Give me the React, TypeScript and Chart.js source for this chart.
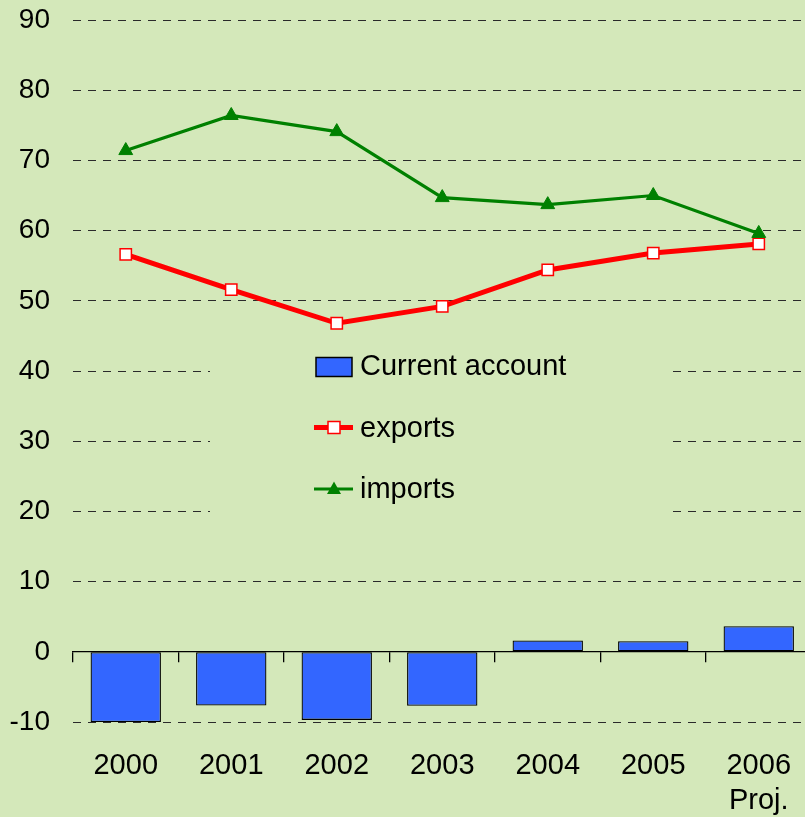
import React, { useEffect, useRef } from 'react';
import { Chart, registerables } from 'chart.js';

Chart.register(...registerables);

// ---- Data ----
const categories: (string | string[])[] = ['2000', '2001', '2002', '2003', '2004', '2005', ['2006', 'Proj.']];
const currentAccount = [-10.0, -7.65, -9.7, -7.7, 1.6, 1.5, 3.65];
const exportsValues = [56.6, 51.6, 46.8, 49.2, 54.4, 56.8, 58.1];
const importsValues = [71.4, 76.4, 74.1, 64.7, 63.7, 65.0, 59.6];
const yMin = -10;
const yMax = 90;
const yStep = 10;

const BG = 'rgb(212,232,186)';
const FONT = "'Liberation Sans', Arial, sans-serif";
const CANVAS_W = 821;

const centerLegend = {
  id: 'centerLegend',
  beforeDatasetsDraw(chart: any) {
    const ctx = chart.ctx as CanvasRenderingContext2D;
    const ds = chart.data.datasets;
    ctx.save();
    // background box hiding gridlines
    ctx.fillStyle = BG;
    ctx.fillRect(210, 335, 461, 195);

    ctx.font = `29px ${FONT}`;
    ctx.fillStyle = '#000';
    ctx.textBaseline = 'middle';
    ctx.textAlign = 'left';

    // Bar item
    const b = ds[0];
    ctx.fillStyle = b.backgroundColor;
    ctx.fillRect(316, 357.5, 36, 19);
    ctx.strokeStyle = b.borderColor;
    ctx.lineWidth = 1.5;
    ctx.strokeRect(316, 357.5, 36, 19);
    ctx.fillStyle = '#000';
    ctx.fillText(b.label, 360, 367);

    // exports item
    const e = ds[1];
    ctx.strokeStyle = e.borderColor;
    ctx.lineWidth = e.borderWidth;
    ctx.beginPath();
    ctx.moveTo(314, 427.5);
    ctx.lineTo(353, 427.5);
    ctx.stroke();
    ctx.fillStyle = e.pointBackgroundColor;
    ctx.fillRect(328, 421.5, 12, 12);
    ctx.strokeStyle = e.pointBorderColor;
    ctx.lineWidth = e.pointBorderWidth;
    ctx.strokeRect(328, 421.5, 12, 12);
    ctx.fillStyle = '#000';
    ctx.fillText(e.label, 360, 429);

    // imports item
    const im = ds[2];
    ctx.strokeStyle = im.borderColor;
    ctx.lineWidth = im.borderWidth;
    ctx.beginPath();
    ctx.moveTo(314, 489);
    ctx.lineTo(353, 489);
    ctx.stroke();
    ctx.fillStyle = im.pointBackgroundColor;
    ctx.beginPath();
    ctx.moveTo(334, 481.5);
    ctx.lineTo(341, 494);
    ctx.lineTo(327, 494);
    ctx.closePath();
    ctx.fill();
    ctx.fillStyle = '#000';
    ctx.fillText(im.label, 360, 490);
    ctx.restore();
  },
};

export default function App() {
  const ref = useRef<HTMLCanvasElement>(null);

  useEffect(() => {
    if (!ref.current) return;
    const chart = new Chart(ref.current, {
      type: 'bar',
      data: {
        labels: categories as any,
        datasets: [
          {
            type: 'bar',
            label: 'Current account',
            data: currentAccount,
            backgroundColor: '#3366FF',
            borderColor: '#000000',
            borderWidth: 1.3,
            borderSkipped: false,
            barPercentage: 0.667,
            categoryPercentage: 1,
            xAxisID: 'x',
            yAxisID: 'y',
            order: 3,
          } as any,
          {
            type: 'line',
            label: 'exports',
            data: exportsValues,
            borderColor: '#FF0000',
            borderWidth: 5,
            pointStyle: 'rect',
            pointRadius: 8,
            pointBackgroundColor: '#FFFFFF',
            pointBorderColor: '#FF0000',
            pointBorderWidth: 1.5,
            tension: 0,
            xAxisID: 'x',
            yAxisID: 'y',
            order: 2,
          } as any,
          {
            type: 'line',
            label: 'imports',
            data: importsValues,
            borderColor: '#008000',
            borderWidth: 3.2,
            pointStyle: 'triangle',
            pointRadius: 8,
            pointBackgroundColor: '#008000',
            pointBorderColor: '#008000',
            pointBorderWidth: 1,
            tension: 0,
            xAxisID: 'x',
            yAxisID: 'y',
            order: 1,
          } as any,
        ],
      },
      options: {
        animation: false,
        responsive: false,
        devicePixelRatio: 1,
        layout: { padding: { top: 20, left: 0, right: 0, bottom: 0 } },
        plugins: {
          legend: { display: false },
          tooltip: { enabled: false },
        },
        scales: {
          x: {
            type: 'category',
            position: 'bottom',
            offset: true,
            grid: { display: false, drawTicks: true, tickLength: 26 },
            border: { display: false },
            ticks: {
              padding: 0,
              color: '#000',
              font: { family: FONT, size: 29, lineHeight: 1.22 },
              maxRotation: 0,
              autoSkip: false,
            },
            afterFit: (s: any) => {
              s.height = 95;
              s.paddingLeft = 0;
              s.paddingRight = 0;
            },
          },
          x2: {
            type: 'category',
            position: { y: 0 } as any,
            offset: true,
            grid: {
              offset: true,
              drawOnChartArea: false,
              drawTicks: true,
              tickLength: 10,
              color: '#000',
              lineWidth: 1.3,
            },
            border: { display: true, color: '#000', width: 1.3 },
            ticks: { display: false },
            afterFit: (s: any) => {
              s.paddingLeft = 0;
              s.paddingRight = 0;
              s.paddingTop = 0;
              s.paddingBottom = 0;
            },
          },
          y: {
            type: 'linear',
            min: yMin,
            max: yMax,
            position: 'left',
            ticks: {
              stepSize: yStep,
              padding: 23,
              color: '#000',
              font: { family: FONT, size: 28 },
            },
            grid: {
              drawTicks: false,
              color: '#2a2a2a',
              lineWidth: 1,
            },
            border: { display: false, dash: [8, 7] },
            afterFit: (s: any) => {
              s.width = 73;
              s.paddingTop = 0;
              s.paddingBottom = 0;
            },
          },
        },
      } as any,
      plugins: [centerLegend],
    });
    return () => chart.destroy();
  }, []);

  return (
    <div
      style={{
        position: 'fixed',
        left: 0,
        top: 0,
        width: 805,
        height: 817,
        overflow: 'hidden',
        background: BG,
      }}
    >
      <canvas
        ref={ref}
        width={CANVAS_W}
        height={817}
        style={{ display: 'block', width: CANVAS_W, height: 817 }}
      />
    </div>
  );
}
